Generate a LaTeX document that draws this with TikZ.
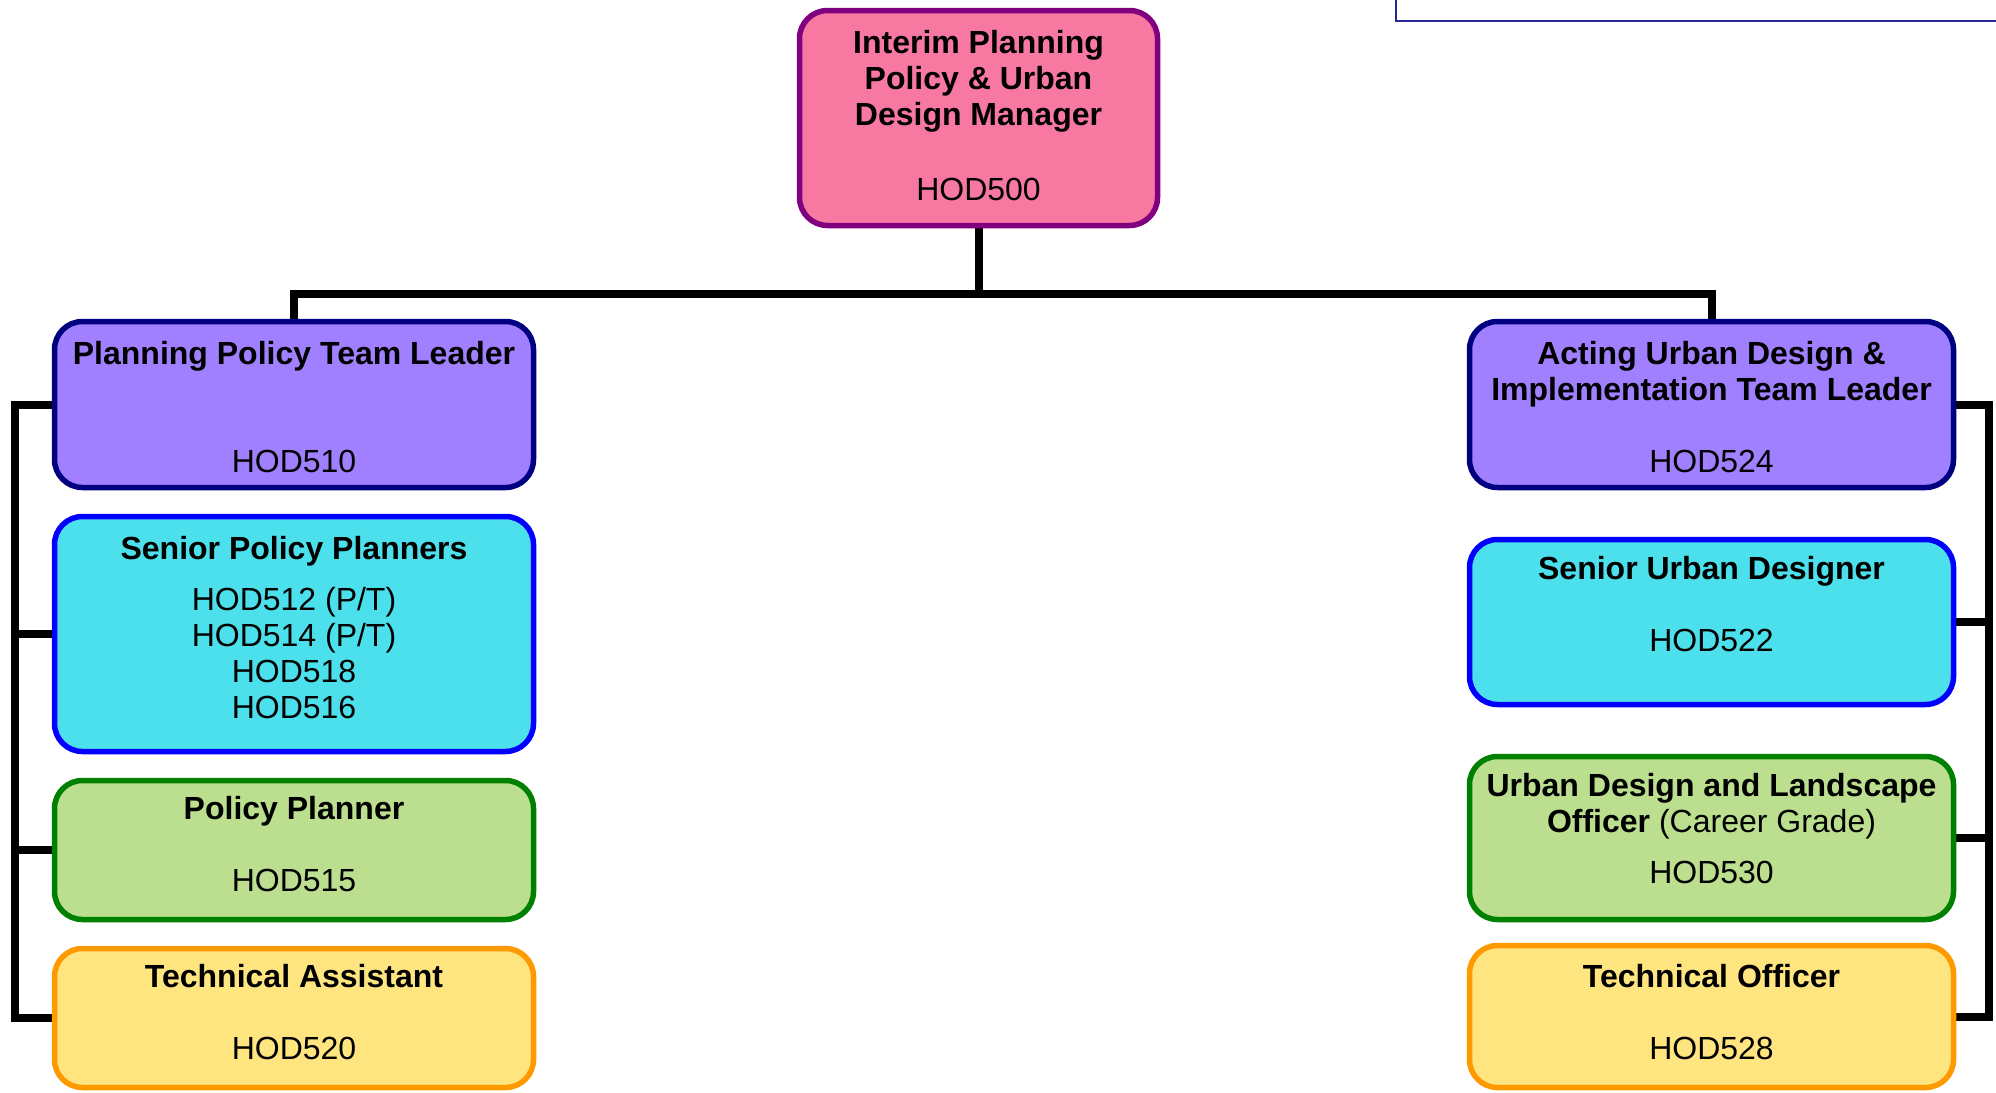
\documentclass[tikz,border=0pt]{standalone}
\usepackage{fontspec}
\setmainfont{Liberation Sans}
\usetikzlibrary{backgrounds}
\definecolor{pinkfill}{RGB}{247,120,161}
\definecolor{pinkline}{RGB}{128,0,128}
\definecolor{lavfill}{RGB}{160,128,255}
\definecolor{lavline}{RGB}{0,0,128}
\definecolor{cyanfill}{RGB}{75,224,235}
\definecolor{cyanline}{RGB}{0,0,255}
\definecolor{greenfill}{RGB}{187,223,143}
\definecolor{greenline}{RGB}{0,128,0}
\definecolor{yellowfill}{RGB}{255,229,127}
\definecolor{yellowline}{RGB}{255,153,0}
\definecolor{frameblue}{RGB}{40,40,150}
\tikzset{
  box/.style={draw, line width=2.75pt, rounded corners=14pt, inner sep=0pt},
  lbox/.style={box, minimum width=239.5pt},
  rbox/.style={box, minimum width=242pt},
  toprole/.style={box, fill=pinkfill, draw=pinkline},
  leadrole/.style={fill=lavfill, draw=lavline},
  seniorrole/.style={fill=cyanfill, draw=cyanline},
  plannerrole/.style={fill=greenfill, draw=greenline},
  techrole/.style={fill=yellowfill, draw=yellowline},
  txt/.style={anchor=north, inner sep=0pt, align=center, font=\fontsize{16pt}{18pt}\selectfont},
  conn/.style={draw=black, line width=4pt, line join=miter},
}
\begin{document}
\begin{tikzpicture}[x=0.5pt, y=-0.5pt]
\useasboundingbox (0,0) rectangle (1996,1092);
% partial frame at top right
\draw[frameblue, line width=1pt] (1396,-5) -- (1396,21) -- (2001,21);

% boxes
\node[toprole, minimum width=179pt, minimum height=107.5pt] (top) at (978.5,118) {};
\node[lbox, leadrole, minimum height=83pt] (l1) at (294,404.5) {};
\node[lbox, seniorrole, minimum height=117.5pt] (l2) at (294,634) {};
\node[lbox, plannerrole, minimum height=69.5pt] (l3) at (294,850) {};
\node[lbox, techrole, minimum height=69.5pt] (l4) at (294,1018) {};
\node[rbox, leadrole, minimum height=83pt] (r1) at (1711.5,404.5) {};
\node[rbox, seniorrole, minimum height=82.5pt] (r2) at (1711.5,622) {};
\node[rbox, plannerrole, minimum height=81.5pt] (r3) at (1711.5,838) {};
\node[rbox, techrole, minimum height=71pt] (r4) at (1711.5,1016.5) {};

% texts
\node[txt] (ttop) at (978.5,30) {\textbf{Interim Planning}\\\textbf{Policy \& Urban}\\\textbf{Design Manager}\\[19.5pt]HOD500};
\node[txt] (tl1) at (294,341) {\textbf{Planning Policy Team Leader}\\[36pt]HOD510};
\node[txt] (tl2) at (294,536) {\textbf{Senior Policy Planners}\\[7.5pt]HOD512 (P/T)\\HOD514 (P/T)\\HOD518\\HOD516};
\node[txt] (tl3) at (294,796) {\textbf{Policy Planner}\\[18pt]HOD515};
\node[txt] (tl4) at (294,964) {\textbf{Technical Assistant}\\[18pt]HOD520};
\node[txt] (tr1) at (1711.5,341) {\textbf{Acting Urban Design \&}\\\textbf{Implementation Team Leader}\\[18pt]HOD524};
\node[txt] (tr2) at (1711.5,556) {\textbf{Senior Urban Designer}\\[18pt]HOD522};
\node[txt] (tr3) at (1711.5,773) {\textbf{Urban Design and Landscape}\\\textbf{Officer} (Career Grade)\\[7.5pt]HOD530};
\node[txt] (tr4) at (1711.5,964) {\textbf{Technical Officer}\\[18pt]HOD528};

% connectors
\coordinate (bar) at (978.5,294);
\coordinate (lrail) at (15,0);
\coordinate (rrail) at (1989,0);
\begin{scope}[on background layer]
\draw[conn] (top.south) -- (bar);
\draw[conn] (l1.north) |- (bar) -| (r1.north);
\draw[conn] (l1.west) -- (l1.west -| lrail) -- (l4.west -| lrail) -- (l4.west);
\draw[conn] (l2.west) -- (l2.west -| lrail);
\draw[conn] (l3.west) -- (l3.west -| lrail);
\draw[conn] (r1.east) -- (r1.east -| rrail) -- (r4.east -| rrail) -- (r4.east);
\draw[conn] (r2.east) -- (r2.east -| rrail);
\draw[conn] (r3.east) -- (r3.east -| rrail);
\end{scope}
\end{tikzpicture}
\end{document}
